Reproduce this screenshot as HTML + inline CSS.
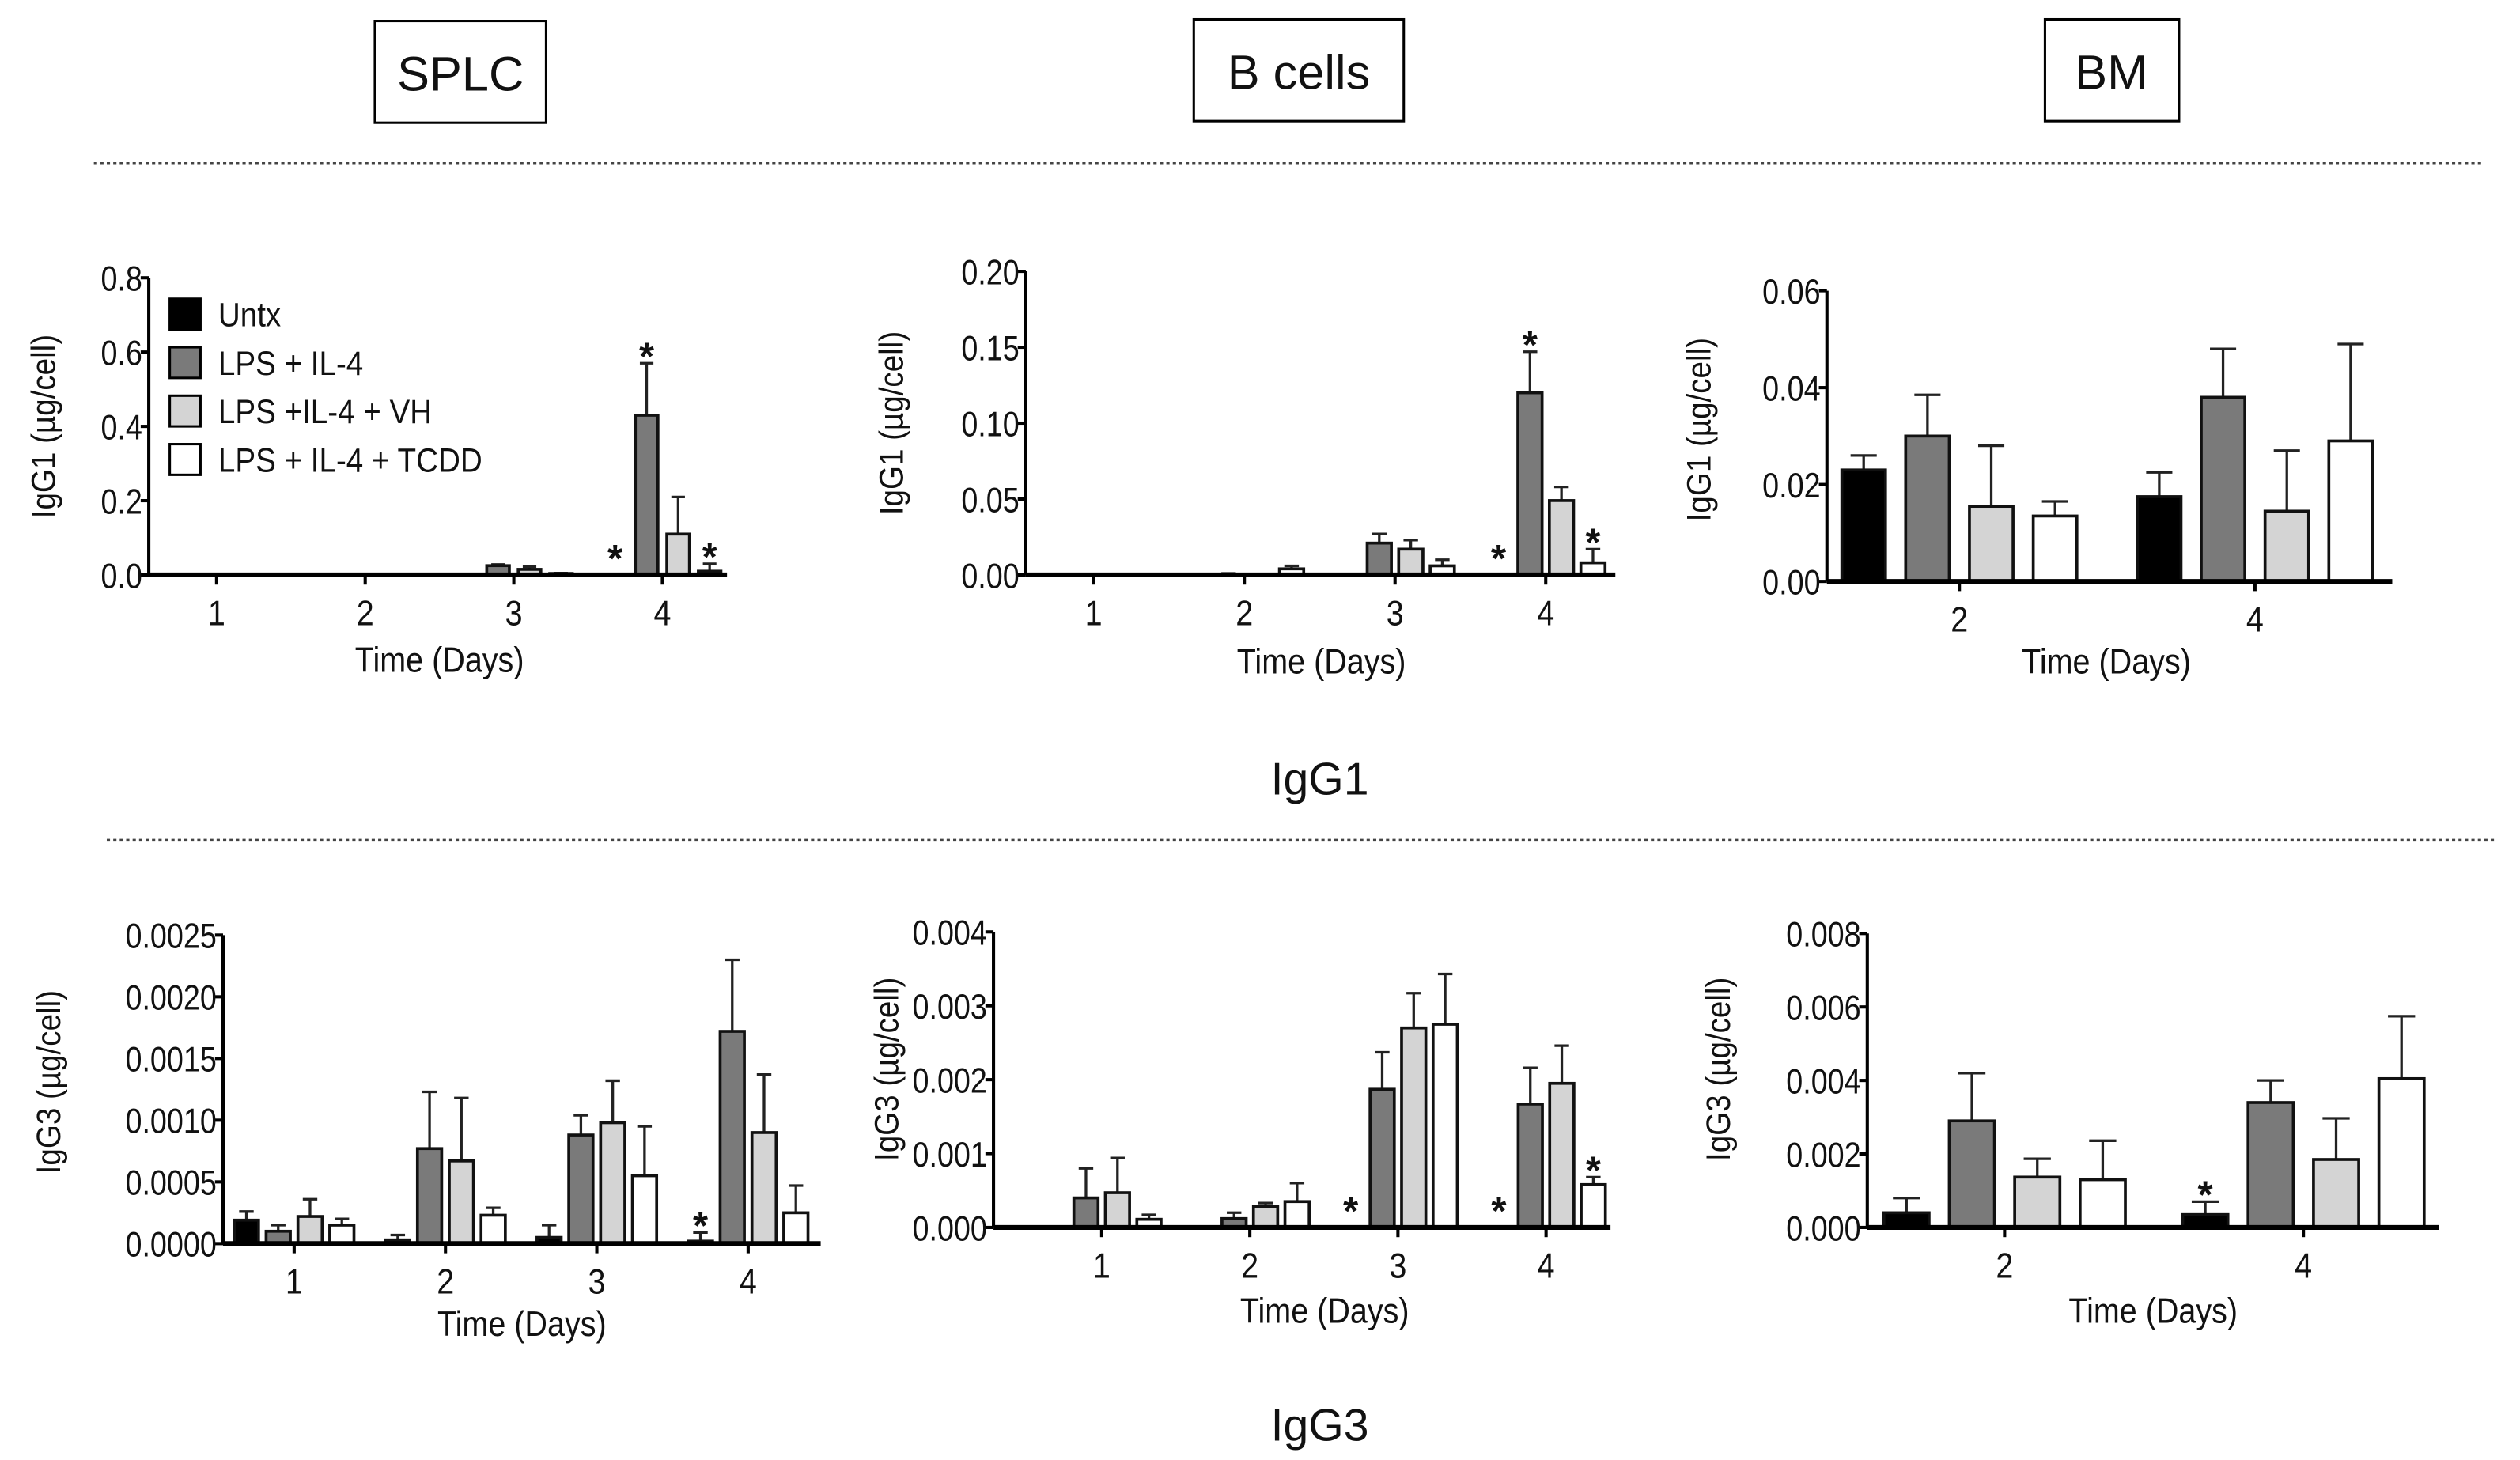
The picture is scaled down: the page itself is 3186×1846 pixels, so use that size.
<!DOCTYPE html>
<html><head><meta charset="utf-8">
<style>
html,body{margin:0;padding:0;background:#fff;}
svg{display:block;}
text{font-family:"Liberation Sans",sans-serif;fill:#111;}
</style></head>
<body>
<svg id="fig" width="3186" height="1846" viewBox="0 0 1560 904" xmlns="http://www.w3.org/2000/svg">
  <g>
    <rect x="232" y="13" width="106" height="63" fill="#fff" stroke="#000" stroke-width="1.5"/>
    <text x="285" y="56" font-size="30" text-anchor="middle">SPLC</text>
  </g>
  <g>
    <rect x="739" y="12" width="130" height="63" fill="#fff" stroke="#000" stroke-width="1.5"/>
    <text x="804" y="55" font-size="30" text-anchor="middle">B cells</text>
  </g>
  <g>
    <rect x="1266" y="12" width="83" height="63" fill="#fff" stroke="#000" stroke-width="1.5"/>
    <text x="1307" y="55" font-size="30" text-anchor="middle">BM</text>
  </g>
  <line x1="58" y1="101" x2="1538" y2="101" stroke="#444" stroke-width="1.2" stroke-dasharray="2,2"/>
  <line x1="66" y1="520" x2="1545" y2="520" stroke="#444" stroke-width="1.2" stroke-dasharray="2,2"/>
  <text x="817" y="492" font-size="28" text-anchor="middle">IgG1</text>
  <text x="817" y="892" font-size="28" text-anchor="middle">IgG3</text>
  <g>
    <rect x="105" y="185" width="19" height="19" fill="#000" stroke="#000" stroke-width="1.5"/>
    <text transform="translate(135,202) scale(0.9,1)" font-size="21">Untx</text>
    <rect x="105" y="215" width="19" height="19" fill="#7a7a7a" stroke="#000" stroke-width="1.5"/>
    <text transform="translate(135,232) scale(0.9,1)" font-size="21">LPS + IL-4</text>
    <rect x="105" y="245" width="19" height="19" fill="#d4d4d4" stroke="#000" stroke-width="1.5"/>
    <text transform="translate(135,262) scale(0.9,1)" font-size="21">LPS +IL-4 + VH</text>
    <rect x="105" y="275" width="19" height="19" fill="#fff" stroke="#000" stroke-width="1.5"/>
    <text transform="translate(135,292) scale(0.9,1)" font-size="21">LPS + IL-4 + TCDD</text>
  </g>
</svg>
<script>
// ---- data (series order: Untx, LPS+IL-4, LPS+IL-4+VH, LPS+IL-4+TCDD) ----
const splcIgG1Cats = ["1","2","3","4"];
const splcIgG1Means = [[0,0,0,0],[0,0,0,0],[0,0.025,0.015,0.004],[0,0.43,0.11,0.01]];
const splcIgG1Errs = [[0,0,0,0],[0,0,0,0],[0,0.028,0.022,0.005],[0,0.57,0.21,0.03]];
const splcIgG1Ticks = ["0.0","0.2","0.4","0.6","0.8"];
const splcIgG1Stars = [[3,0],[3,1],[3,3]];

const bIgG1Cats = ["1","2","3","4"];
const bIgG1Means = [[0,0,0,0],[0,0.0005,0,0.004],[0,0.021,0.017,0.006],[0,0.12,0.049,0.008]];
const bIgG1Errs = [[0,0,0,0],[0,0.001,0,0.006],[0,0.027,0.023,0.01],[0,0.147,0.058,0.017]];
const bIgG1Ticks = ["0.00","0.05","0.10","0.15","0.20"];
const bIgG1Stars = [[3,0],[3,1],[3,3]];

const bmIgG1Cats = ["2","4"];
const bmIgG1Means = [[0.023,0.030,0.0155,0.0135],[0.0175,0.038,0.0145,0.029]];
const bmIgG1Errs = [[0.026,0.0385,0.028,0.0165],[0.0225,0.048,0.027,0.049]];
const bmIgG1Ticks = ["0.00","0.02","0.04","0.06"];
const bmIgG1Stars = [];

const splcIgG3Cats = ["1","2","3","4"];
const splcIgG3Means = [[0.00019,0.0001,0.00022,0.00015],[0.00003,0.00077,0.00067,0.00023],[0.00005,0.00088,0.00098,0.00055],[0.00002,0.00172,0.0009,0.00025]];
const splcIgG3Errs = [[0.00026,0.00015,0.00036,0.0002],[0.00007,0.00123,0.00118,0.00029],[0.00015,0.00104,0.00132,0.00095],[0.00009,0.0023,0.00137,0.00047]];
const splcIgG3Ticks = ["0.0000","0.0005","0.0010","0.0015","0.0020","0.0025"];
const splcIgG3Stars = [[3,0]];

const bIgG3Cats = ["1","2","3","4"];
const bIgG3Means = [[0,0.0004,0.00047,0.00011],[0,0.00012,0.00028,0.00035],[0,0.00187,0.0027,0.00275],[0,0.00167,0.00195,0.00058]];
const bIgG3Errs = [[0,0.0008,0.00094,0.00017],[0,0.0002,0.00033,0.0006],[0,0.00237,0.00317,0.00343],[0,0.00216,0.00246,0.00068]];
const bIgG3Ticks = ["0.000","0.001","0.002","0.003","0.004"];
const bIgG3Stars = [[2,0],[3,0],[3,3]];

const bmIgG3Cats = ["2","4"];
const bmIgG3Means = [[0.0004,0.0029,0.00137,0.0013],[0.00035,0.0034,0.00185,0.00405]];
const bmIgG3Errs = [[0.0008,0.0042,0.00187,0.00236],[0.0007,0.004,0.00297,0.00575]];
const bmIgG3Ticks = ["0.000","0.002","0.004","0.006","0.008"];
const bmIgG3Stars = [[1,0]];

const seriesFills = ["#000000","#7a7a7a","#d4d4d4","#ffffff"];

const NS = "http://www.w3.org/2000/svg";
const svg = document.getElementById("fig");
function mk(tag, attrs, parent){
  const e = document.createElementNS(NS, tag);
  for (const k in attrs) e.setAttribute(k, attrs[k]);
  parent.appendChild(e);
  return e;
}

function drawPanel(cfg){
  const g = mk("g", {}, svg);
  
  
  const yMax = parseFloat(cfg.ticks[cfg.ticks.length-1]);
  const yScale = v => cfg.y0 - (v / yMax) * (cfg.y0 - cfg.yTop);
  const xScale = i => cfg.cx0 + i * cfg.spacing;
  cfg.means.forEach((grp, gi) => {
    grp.forEach((v, si) => {
      const cx = xScale(gi) + (si - 1.5) * cfg.step;
      const top = yScale(v);
      const err = cfg.errs[gi][si];
      if (err > v) {
        const ey = yScale(err);
        const eb = mk("path", {d:`M${cx} ${top} V${ey} M${cx-cfg.w*0.3} ${ey} H${cx+cfg.w*0.3}`, stroke:"#222", "stroke-width":1.6, fill:"none"}, g);
        
        
      }
      if (v > 0) {
        const r = mk("rect", {x:cx-cfg.w/2, y:top, width:cfg.w, height:Math.max(cfg.y0-top,0.5), fill:seriesFills[si], stroke:"#111", "stroke-width":1.8}, g);
        
        
      }
    });
  });
  cfg.stars.forEach(s => {
    const gi = s[0], si = s[1];
    const cx = xScale(gi) + (si - 1.5) * cfg.step;
    const ytop = Math.min(yScale(cfg.errs[gi][si]), yScale(cfg.means[gi][si]), cfg.y0 - 6);
    const t = mk("text", {x:cx, y:ytop + 4, "font-size":24, "font-weight":"bold", "text-anchor":"middle"}, g);
    t.textContent = "*";
    
    
  });
  const ya = mk("line", {x1:cfg.ax, y1:cfg.yTop, x2:cfg.ax, y2:cfg.y0, stroke:"#000", "stroke-width":2}, g);
  
  
  cfg.ticks.forEach((lab) => {
    const y = yScale(parseFloat(lab));
    mk("line", {x1:cfg.ax-5, y1:y, x2:cfg.ax, y2:y, stroke:"#000", "stroke-width":2}, g);
    const t = mk("text", {transform:`translate(${cfg.ax-4},${y+8}) scale(0.84,1)`, "font-size":22, "text-anchor":"end"}, g);
    t.textContent = lab;
    
    
  });
  const xa = mk("line", {x1:cfg.ax, y1:cfg.y0, x2:cfg.xEnd, y2:cfg.y0, stroke:"#000", "stroke-width":3}, g);
  
  
  cfg.cats.forEach((c, i) => {
    const x = xScale(i);
    mk("line", {x1:x, y1:cfg.y0, x2:x, y2:cfg.y0+6, stroke:"#000", "stroke-width":2}, g);
    const t = mk("text", {transform:`translate(${x},${cfg.y0+31}) scale(0.88,1)`, "font-size":22, "text-anchor":"middle"}, g);
    t.textContent = c;
    
    
  });
  const xt = mk("text", {transform:`translate(${cfg.xlx},${cfg.xly}) scale(0.88,1)`, "font-size":22, "text-anchor":"middle"}, g);
  xt.textContent = "Time (Days)";
  
  
  const yt = mk("text", {x:0, y:0, "font-size":21, "text-anchor":"middle", transform:`translate(${cfg.ylx},${cfg.yly}) rotate(-90) scale(0.9,1)`}, g);
  yt.textContent = cfg.ytitle;
  
  
}

drawPanel({name:"chart-splc-igg1", cats:splcIgG1Cats, means:splcIgG1Means, errs:splcIgG1Errs, ticks:splcIgG1Ticks, stars:splcIgG1Stars,
  ax:92, y0:356, yTop:172, xEnd:450, cx0:134, spacing:92, step:19.5, w:14, xlx:272, xly:416, ylx:34, yly:264, ytitle:"IgG1 (µg/cell)"});
drawPanel({name:"chart-bcells-igg1", cats:bIgG1Cats, means:bIgG1Means, errs:bIgG1Errs, ticks:bIgG1Ticks, stars:bIgG1Stars,
  ax:635, y0:356, yTop:168, xEnd:1000, cx0:677, spacing:93.3, step:19.5, w:15, xlx:818, xly:417, ylx:559, yly:262, ytitle:"IgG1 (µg/cell)"});
drawPanel({name:"chart-bm-igg1", cats:bmIgG1Cats, means:bmIgG1Means, errs:bmIgG1Errs, ticks:bmIgG1Ticks, stars:bmIgG1Stars,
  ax:1131, y0:360, yTop:180, xEnd:1481, cx0:1213, spacing:183, step:39.5, w:27, xlx:1304, xly:417, ylx:1059, yly:266, ytitle:"IgG1 (µg/cell)"});
drawPanel({name:"chart-splc-igg3", cats:splcIgG3Cats, means:splcIgG3Means, errs:splcIgG3Errs, ticks:splcIgG3Ticks, stars:splcIgG3Stars,
  ax:138, y0:770, yTop:579, xEnd:508, cx0:182, spacing:93.7, step:19.7, w:15, xlx:323, xly:827, ylx:37, yly:670, ytitle:"IgG3 (µg/cell)"});
drawPanel({name:"chart-bcells-igg3", cats:bIgG3Cats, means:bIgG3Means, errs:bIgG3Errs, ticks:bIgG3Ticks, stars:bIgG3Stars,
  ax:615, y0:760, yTop:577, xEnd:997, cx0:682, spacing:91.7, step:19.5, w:15, xlx:820, xly:819, ylx:556, yly:662, ytitle:"IgG3 (µg/cell)"});
drawPanel({name:"chart-bm-igg3", cats:bmIgG3Cats, means:bmIgG3Means, errs:bmIgG3Errs, ticks:bmIgG3Ticks, stars:bmIgG3Stars,
  ax:1156, y0:760, yTop:578, xEnd:1510, cx0:1241, spacing:185, step:40.5, w:28, xlx:1333, xly:819, ylx:1071, yly:662, ytitle:"IgG3 (µg/cell)"});
</script>
</body></html>
